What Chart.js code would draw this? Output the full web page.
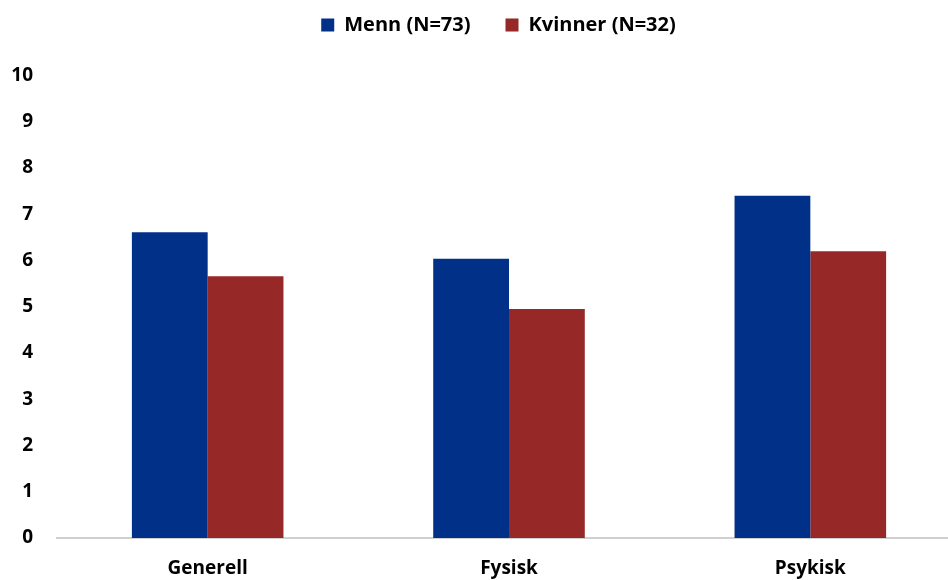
<!DOCTYPE html>
<html>
<head>
<meta charset="utf-8">
<script src="https://cdn.jsdelivr.net/npm/chart.js@4/dist/chart.umd.min.js"></script>
<style>
  html, body { margin: 0; padding: 0; background: #fff; overflow: hidden; }
  #wrap { width: 961px; height: 580px; }
</style>
</head>
<body>
<div id="wrap"><canvas id="c" width="961" height="580"></canvas></div>
<script>
// Average scores per domain, by gender
const categories = ['Generell', 'Fysisk', 'Psykisk'];
const menn = [6.61, 6.04, 7.40];
const kvinner = [5.66, 4.95, 6.20];
const seriesNames = ['Menn (N=73)', 'Kvinner (N=32)'];
const yMin = 0, yMax = 10, yStep = 1;

const FONT = '"Open Sans", "Liberation Sans", sans-serif';

// Fixed legend band height, legend nudged up and sideways
const legendSpacer = {
  id: 'legendSpacer',
  beforeInit(chart) {
    const fit = chart.legend.fit;
    chart.legend.fit = function () {
      fit.call(this);
      this.height = 75.5;
    };
  },
  afterLayout(chart) {
    chart.legend.left += 18;
    chart.legend.right += 18;
    chart.legend.top -= 20;
  }
};

new Chart(document.getElementById('c'), {
  type: 'bar',
  data: {
    labels: categories,
    datasets: [
      { label: seriesNames[0], data: menn, backgroundColor: '#003087', borderWidth: 0 },
      { label: seriesNames[1], data: kvinner, backgroundColor: '#962828', borderWidth: 0 }
    ]
  },
  options: {
    responsive: false,
    animation: false,
    layout: { padding: 0 },
    datasets: { bar: { categoryPercentage: 0.503, barPercentage: 1.0 } },
    plugins: {
      legend: {
        position: 'top',
        labels: {
          boxWidth: 13,
          boxHeight: 13,
          padding: 35,
          color: '#000',
          font: { family: FONT, size: 20, weight: 'bold' }
        }
      },
      tooltip: { enabled: false }
    },
    scales: {
      x: {
        grid: { display: false, drawTicks: false },
        border: { display: true, color: '#d0d0d0', width: 2 },
        ticks: { color: '#000', padding: 19, font: { family: FONT, size: 19, weight: 'bold' } },
        afterFit(scale) { scale.height = 42; }
      },
      y: {
        min: yMin,
        max: yMax,
        grid: { display: false, drawTicks: false },
        border: { display: false },
        ticks: { stepSize: yStep, color: '#000', padding: 24, font: { family: FONT, size: 19, weight: 'bold' } },
        afterFit(scale) { scale.width = 57; }
      }
    }
  },
  plugins: [legendSpacer]
});
</script>
</body>
</html>
